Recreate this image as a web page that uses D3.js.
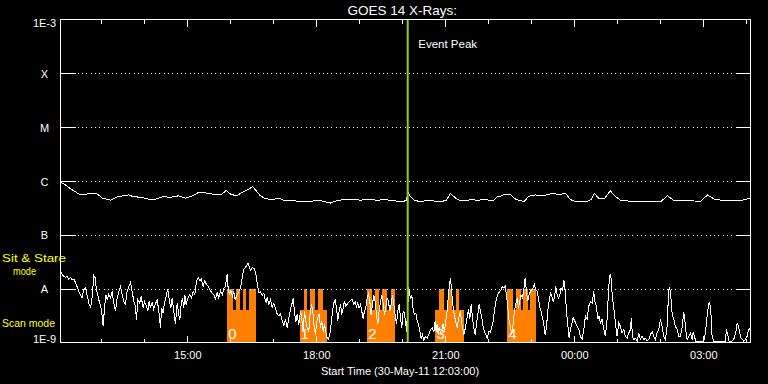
<!DOCTYPE html>
<html><head><meta charset="utf-8">
<script src="https://cdn.jsdelivr.net/npm/d3@7"></script>
<style>html,body{margin:0;padding:0;background:#000;overflow:hidden}svg{display:block}</style>
</head><body><svg id="c" width="768" height="384"></svg>
<script>
// ---- data ----
const startTime = [2011, 4, 30, 12, 3, 0];      // 30-May-11 12:03:00
const endMinutes = 962.8;                       // minutes after start at right edge
const eventPeakMinutes = 484.5;
const titleText = "GOES 14 X-Rays:";
const xTitleText = "Start Time (30-May-11 12:03:00)";

const classLabels = ["1E-9", "A", "B", "C", "M", "X", "1E-3"];
const classFlux   = [1e-9, 1e-8, 1e-7, 1e-6, 1e-5, 1e-4, 1e-3];
const tickLabels  = ["15:00", "18:00", "21:00", "00:00", "03:00"];

// long channel (upper trace)
const highMinutes = [0,7,16.7,27.9,34.9,46,51.6,58.6,69.8,79.5,86.5,94.9,101.9,111.6,122.8,132.6,142.3,153.5,164.6,174.4,184.2,191.2,202.3,212.1,223.3,231.6,237.2,245.6,254,262.3,267.9,272.1,279,286,295.8,304.2,311.2,323.7,334.9,348.8,353,362.8,376.7,387.9,397.7,407.4,418.6,429.8,441,453.5,464.7,477.2,482.8,484.9,488.4,494,502.3,509.3,519,530.2,538.6,544.2,551.2,558.1,566.5,573.5,581.9,590.2,597.2,604.2,609.8,613.2,620.9,627.9,634.9,641.9,647.4,653,662.8,671.2,678.1,686.5,694.9,704.7,711.6,720,734,740.9,745.1,750.7,759,767.4,773,781.4,795.3,816.3,837.2,847,855.3,876.3,893,902.8,912.6,927.9,948.8,962.8];
const highFlux = [9.5e-7,8.4e-7,6.8e-7,5.5e-7,5.7e-7,5.9e-7,5.7e-7,4.8e-7,4.4e-7,5.1e-7,5.3e-7,5.5e-7,5.1e-7,5.0e-7,4.6e-7,4.6e-7,5.1e-7,5.0e-7,5.3e-7,4.8e-7,5.3e-7,6.0e-7,6.0e-7,5.7e-7,5.5e-7,6.7e-7,5.7e-7,5.3e-7,6.2e-7,7.0e-7,7.9e-7,6.8e-7,5.3e-7,4.7e-7,4.5e-7,4.8e-7,4.4e-7,4.4e-7,4.1e-7,4.1e-7,4.3e-7,4.3e-7,3.9e-7,4.4e-7,4.5e-7,4.6e-7,4.4e-7,4.6e-7,4.4e-7,4.5e-7,4.3e-7,4.1e-7,4.4e-7,6.2e-7,5.1e-7,4.4e-7,4.1e-7,4.3e-7,4.3e-7,4.1e-7,4.4e-7,5.9e-7,4.8e-7,4.3e-7,4.3e-7,4.6e-7,4.3e-7,4.6e-7,4.4e-7,4.3e-7,5.1e-7,5.2e-7,5.7e-7,5.6e-7,4.6e-7,4.3e-7,4.2e-7,5.2e-7,5.5e-7,5.3e-7,5.5e-7,5.9e-7,5.6e-7,5.9e-7,4.5e-7,4.1e-7,4.1e-7,4.6e-7,5.9e-7,4.8e-7,4.7e-7,6.6e-7,5.3e-7,4.4e-7,4.2e-7,4.1e-7,4.1e-7,5.3e-7,4.4e-7,4.3e-7,4.2e-7,5.5e-7,4.6e-7,4.3e-7,4.3e-7,4.8e-7];

// short channel (lower trace)
const lowMinutes = [0,3.7,7,9.3,11.6,14,16.3,18.6,21,23,25.6,28,30,32.5,35,37,39.5,42,44,46.5,48.4,50,52,54,56,57.7,59.5,61.4,63.2,65,67.4,69.8,72,74.4,76.7,79,81.8,83.7,86,88.4,90.7,93,95.3,97.7,100,102.3,104.6,106,108,110.7,112.5,115.3,117.2,120,121.8,123.7,125.6,127.9,130,132.5,134.9,137.2,139.5,141,143.2,145,147.9,149.7,152,154,155.8,158,160.4,162.8,165,166.5,168.3,170.2,172,173.4,175.3,177.6,180.4,182.7,185,187.4,189.7,192,194.4,196.7,199,201.3,203.7,206,208.3,211.6,214,216.2,218.6,220.9,223.2,226,227.9,230.2,232.5,233.9,235.8,237.6,240,241.8,243.7,
246.5,248.8,251.2,253.5,255.8,258.1,260.5,261.8,263.7,265.6,267.4,269.8,271.6,273,274.4,275.8,277.2,279,281.4,283.7,285.1,287,288.4,290.7,293,295.3,297.7,300,302.3,304.6,307,309.3,311.6,313.9,316.3,318.6,320.9,323.2,324.6,326.5,328.3,330.2,332.5,334.9,336.2,338.6,340.4,342.3,344.2,346.5,347.9,350.2,352,353.5,355.8,357.2,359,360.9,362.8,364.6,366.5,368.3,370.2,372.1,373.9,375.8,377.6,379.5,381.4,383.2,385.1,386.9,388.8,390.7,392.5,394.4,396.2,398.1,400,402.3,404.6,406.9,409.2,411.1,413,414.8,416.7,418.6,420.4,422.3,424.1,426,427.9,429.7,431.6,433.4,435.3,437.2,439,440.9,442.7,444.6,446.5,448.3,450.2,452,453.9,455.8,457.6,459.5,461.3,463.2,465.1,466.9,468.8,470.6,472.5,474.4,476.2,478.1,
479.1,481.4,482.8,484.2,486,487.4,488.8,490.2,492.1,493.9,495.8,497.7,499.5,501.4,503.2,505.1,507,509.3,511.6,513.9,516.3,518.6,520.9,522.8,524.2,525.6,527,528.3,530.2,532.1,533.9,535.8,537.6,539.5,540.9,542.3,544.2,545.5,546.9,548.8,551.1,553.5,555.8,558.1,559.5,560.9,562.8,565.1,567.4,569.3,571.1,573,574.8,576.7,578.6,580.4,582.3,584.1,586,587.9,589.7,591.6,593.4,595.3,597.6,600,601.8,603.7,605.5,607.4,609.3,611.1,613,614.8,616.7,618.6,620.4,622.3,624.1,626,627.9,629.7,631.6,633.4,635.3,637.2,639,640.9,642.7,644.6,646.5,648.3,650.2,652,653.9,655.8,657.6,659.5,661.3,663.2,665.1,666.9,668.8,670.6,672.5,674.4,676.2,678.1,679.9,681.8,683.7,685.5,687.4,689.2,691.1,693,694.8,696.7,698.5,700.4,702.3,704.1,706,707.8,709.7,711.6,713.4,715.3,
723.2,725.5,727.8,730.2,732.5,734.8,737.1,739.5,741.8,744.1,746,747.8,749.7,751.5,753.4,755.7,758.1,760.4,762.7,765,766.4,767.8,769.2,771.1,772.9,774.8,776.7,779,781.3,783.6,786,788.3,790.6,792.9,795.3,796.6,798,799.9,802.2,804.6,806.9,809.2,811.5,813.9,816.2,818.5,820.8,823.2,825.5,827.8,830.1,832.5,834.8,837.1,839.4,841.8,844.1,846.4,848.7,850.1,852,853.4,855.7,858,860.4,862.7,865,867.3,869.7,871,872.9,874.3,876.6,879,881.3,882.7,884.5,886.4,892.9,897.6,899.9,902.2,904.5,905.9,907.8,909.2,911.5,927.8,929.2,931,932.9,937.1,939.4,942.2,944.1,946,947.8,949.6,951.5,953.4,955.7,958,960.3,961.7];
const lowFlux = [2.1e-8,1.75e-8,1.6e-8,1.7e-8,1.5e-8,1.6e-8,1.45e-8,1.5e-8,1.3e-8,1.1e-8,8.9e-9,7.7e-9,6.7e-9,9.6e-9,1.03e-8,7.7e-9,5.4e-9,4.4e-9,6.7e-9,1.75e-8,1.6e-8,9.6e-9,7.7e-9,5.8e-9,4.7e-9,3.5e-9,2.0e-9,4.4e-9,7.7e-9,6.3e-9,7.9e-9,6.7e-9,8.9e-9,5.4e-9,3.8e-9,6.7e-9,9.2e-9,1.1e-8,7.7e-9,5.8e-9,5.1e-9,8.9e-9,1.1e-8,1.3e-8,8.9e-9,5.8e-9,4.7e-9,2.6e-9,6.3e-9,5.4e-9,7.2e-9,4.4e-9,5.8e-9,4.7e-9,3.8e-9,5.8e-9,4.4e-9,5.6e-9,4.1e-9,5.2e-9,6.3e-9,3.8e-9,1.9e-9,4.4e-9,3.5e-9,5.4e-9,7.7e-9,9.9e-9,5.8e-9,4.4e-9,6.7e-9,3.8e-9,2.2e-9,5.4e-9,3.3e-9,2.6e-9,5.1e-9,6.7e-9,4.4e-9,7.7e-9,5.1e-9,6.7e-9,7.7e-9,6.7e-9,8.9e-9,7.7e-9,1.35e-8,1.6e-8,1.4e-8,1.5e-8,1.1e-8,1.4e-8,1.2e-8,1.1e-8,9.6e-9,8.3e-9,7.7e-9,6.5e-9,8.3e-9,6.7e-9,8.9e-9,7.7e-9,1.03e-8,1.1e-8,1.85e-8,1.03e-8,7.7e-9,9.2e-9,7.2e-9,8.9e-9,6.3e-9,
7.7e-9,8.9e-9,1.05e-8,1.6e-8,2.3e-8,2.5e-8,2.8e-8,3.0e-8,2.45e-8,2.2e-8,2.45e-8,2.4e-8,2.1e-8,1.75e-8,1.3e-8,1.0e-8,8.3e-9,8.9e-9,7.5e-9,8.3e-9,6.7e-9,5.6e-9,6.9e-9,5.2e-9,6.3e-9,4.5e-9,5.4e-9,4.3e-9,3.4e-9,3.1e-9,3.4e-9,2.5e-9,2.1e-9,2.7e-9,1.85e-9,2.9e-9,4.1e-9,5.4e-9,6.7e-9,3.8e-9,2.4e-9,3.3e-9,2.1e-9,3.8e-9,3.2e-9,1.6e-9,3.8e-9,2.5e-9,1.9e-9,1.6e-9,3.1e-9,5.1e-9,3.8e-9,2.2e-9,1.4e-9,2.2e-9,2.9e-9,3.4e-9,1.9e-9,2.5e-9,1.6e-9,2.2e-9,1.55e-9,1.2e-9,1.15e-9,1.4e-9,2.2e-9,3.8e-9,5.4e-9,6.3e-9,4.4e-9,2.5e-9,3.8e-9,5.1e-9,3.3e-9,4.4e-9,5.8e-9,4.7e-9,5.1e-9,5.6e-9,6.0e-9,6.3e-9,5.1e-9,5.8e-9,4.7e-9,5.4e-9,4.4e-9,5.1e-9,3.8e-9,2.8e-9,3.8e-9,4.4e-9,6.7e-9,7.9e-9,5.8e-9,3.3e-9,5.1e-9,7.7e-9,5.8e-9,3.3e-9,2.2e-9,3.8e-9,5.8e-9,7.7e-9,5.4e-9,3.3e-9,4.4e-9,6.7e-9,5.8e-9,3.8e-9,5.1e-9,7.7e-9,5.1e-9,3.3e-9,2.2e-9,3.8e-9,5.1e-9,2.9e-9,1.9e-9,3.8e-9,
3.8e-9,2.5e-9,1.6e-9,3.8e-9,1.05e-8,7.7e-9,6.5e-9,7.7e-9,4.1e-9,3.3e-9,3.5e-9,2.5e-9,2.2e-9,1.6e-9,1.2e-9,1.4e-9,1.1e-9,1.3e-9,1.2e-9,1.4e-9,1.7e-9,1.9e-9,1.55e-9,2.5e-9,1.6e-9,2.2e-9,1.4e-9,1.9e-9,1.55e-9,1.75e-9,2.2e-9,1.6e-9,2.5e-9,3.8e-9,6.7e-9,1.03e-8,1.6e-8,9.6e-9,5.8e-9,3.8e-9,2.5e-9,1.9e-9,2.9e-9,3.8e-9,2.5e-9,1.9e-9,1.4e-9,1.9e-9,2.9e-9,4.1e-9,2.7e-9,5.1e-9,2.9e-9,1.9e-9,1.4e-9,2.2e-9,3.3e-9,5.1e-9,3.8e-9,2.9e-9,2.0e-9,1.6e-9,1.4e-9,1.2e-9,1.6e-9,1.55e-9,1.9e-9,2.5e-9,3.8e-9,5.8e-9,7.2e-9,8.3e-9,8.9e-9,9.6e-9,1.1e-8,1.03e-8,1.15e-8,7.7e-9,4.4e-9,2.5e-9,1.9e-9,1.4e-9,2.2e-9,3.8e-9,5.1e-9,6.7e-9,4.4e-9,5.8e-9,7.7e-9,6.7e-9,9.6e-9,1.6e-8,8.9e-9,5.8e-9,7.7e-9,8.9e-9,9.6e-9,1.03e-8,1.2e-8,9.6e-9,8.9e-9,6.7e-9,4.4e-9,3.8e-9,2.9e-9,2.2e-9,1.4e-9,1.9e-9,3.8e-9,5.8e-9,8.3e-9,7.2e-9,5.8e-9,6.7e-9,1.1e-8,7.7e-9,6.7e-9,7.7e-9,1.03e-8,8.9e-9,1.45e-8,9.6e-9,3.8e-9,2.2e-9,1.2e-9,1.75e-9,2.2e-9,2.9e-9,
1.74e-9,1.3e-9,1.14e-9,1.74e-9,3.1e-9,2.7e-9,4.7e-9,5.8e-9,5.4e-9,8.9e-9,5.4e-9,4.7e-9,2.7e-9,3.1e-9,2.3e-9,2.7e-9,1.74e-9,1.3e-9,2.7e-9,1.1e-8,1.7e-8,1.9e-8,9.6e-9,5.4e-9,3.5e-9,2.0e-9,1.3e-9,2.3e-9,2.0e-9,1.5e-9,1.74e-9,1.3e-9,1.2e-9,1.5e-9,1.74e-9,2.9e-9,1.3e-9,1.14e-9,1.2e-9,1.06e-9,1.5e-9,1.14e-9,1.3e-9,1.14e-9,1.2e-9,1.06e-9,1.14e-9,1.4e-9,1.6e-9,1.3e-9,1.14e-9,1.5e-9,1.74e-9,2.7e-9,2.0e-9,1.3e-9,1.14e-9,2.0e-9,9.6e-9,1.05e-8,6.3e-9,3.5e-9,2.7e-9,2.0e-9,1.74e-9,1.3e-9,1.3e-9,1.9e-9,3.6e-9,2.7e-9,1.5e-9,1.14e-9,1.3e-9,1.5e-9,1.14e-9,1.55e-9,1.3e-9,1.06e-9,1.06e-9,1.06e-9,1.5e-9,3.1e-9,5.4e-9,5.6e-9,3.1e-9,1.3e-9,1.06e-9,1.06e-9,1.74e-9,1.4e-9,1.06e-9,1.06e-9,1.14e-9,1.5e-9,2.3e-9,2.0e-9,1.5e-9,1.2e-9,1.14e-9,1.06e-9,1.14e-9,1.3e-9,1.74e-9,1.8e-9];

// Sit & Stare / Scan mode segments (minutes after start, level)
const modeStart = [232.6,232.6,245.2,254.4,263.7, 333.5,339.1,348.8,359.6, 427.9,427.9,438.5,448.9,460.5, 523.2,528.8,540.4,551.2, 623.3,623.3,634.9,645.1,655.8];
const modeEnd   = [272.1,241.0,250.2,259.5,272.1, 372.1,344.6,354.8,366.5, 467.4,434.9,444.1,455.8,467.4, 562.7,535.8,546.5,556.7, 662.8,631.1,641.9,652.0,662.8];
const modeFlux  = [4e-9,1e-8,1e-8,1e-8,1e-8, 4e-9,1e-8,1e-8,1e-8, 4e-9,1e-8,1e-8,1e-8,1e-8, 4e-9,1e-8,1e-8,1e-8, 4e-9,1e-8,1e-8,1e-8,1e-8];
const blockLabels = ["0","1","2","3","4"];
const blockLabelMinutes = [232.6,333.5,427.9,523.2,623.3];

// ---- drawing ----
const start = new Date(startTime[0], startTime[1], startTime[2], startTime[3], startTime[4], startTime[5]);
const t = m => new Date(start.getTime() + m * 60000);
const L = 60.5, R = 750.5, T = 19.5, B = 342.5;
const x = d3.scaleTime().domain([start, t(endMinutes)]).range([L, R]);
const y = d3.scaleLog().domain([1e-9, 1e-3]).range([B, T]);
const svg = d3.select("#c");
svg.append("rect").attr("width", 768).attr("height", 384).attr("fill", "#000");
const FONT = "'Liberation Sans', Arial, sans-serif";
const white = "#ffffff";

// mode blocks
svg.append("g").selectAll("rect").data(modeStart).join("rect")
  .attr("x", (d, i) => x(t(d)))
  .attr("width", (d, i) => x(t(modeEnd[i])) - x(t(d)))
  .attr("y", (d, i) => y(modeFlux[i]))
  .attr("height", (d, i) => y(1e-9) - y(modeFlux[i]))
  .attr("fill", "#ff8000").attr("shape-rendering", "crispEdges");

svg.append("g").selectAll("text").data(blockLabels).join("text")
  .attr("x", (d, i) => x(t(blockLabelMinutes[i])) + 1)
  .attr("y", 338.5)
  .attr("fill", white).attr("font-family", FONT).attr("font-size", 15).text(d => d);

// gridlines
const grid = classFlux.slice(1, -1);
svg.append("g").selectAll("line").data(grid).join("line")
  .attr("x1", L).attr("x2", R).attr("y1", d => Math.round(y(d)) + 0.5).attr("y2", d => Math.round(y(d)) + 0.5)
  .attr("stroke", white).attr("stroke-dasharray", "1,3.3").attr("shape-rendering", "crispEdges");
svg.append("g").selectAll("line").data(grid).join("line")
  .attr("x1", L).attr("x2", L + 15).attr("y1", d => Math.round(y(d)) + 0.5).attr("y2", d => Math.round(y(d)) + 0.5)
  .attr("stroke", white).attr("shape-rendering", "crispEdges");
svg.append("g").selectAll("line").data(grid).join("line")
  .attr("x1", R - 14).attr("x2", R).attr("y1", d => Math.round(y(d)) + 0.5).attr("y2", d => Math.round(y(d)) + 0.5)
  .attr("stroke", white).attr("shape-rendering", "crispEdges");

// traces
const line = d3.line().x(d => x(t(d[0]))).y(d => y(d[1]));
svg.append("path").datum(lowMinutes.map((m, i) => [m, lowFlux[i]]))
  .attr("d", line).attr("fill", "none").attr("stroke", white).attr("stroke-width", 1)
  .attr("shape-rendering", "crispEdges");
svg.append("path").datum(highMinutes.map((m, i) => [m, highFlux[i]]))
  .attr("d", line).attr("fill", "none").attr("stroke", white).attr("stroke-width", 1)
  .attr("shape-rendering", "crispEdges");

// event peak
svg.append("line").attr("x1", x(t(eventPeakMinutes))).attr("x2", x(t(eventPeakMinutes)))
  .attr("y1", T).attr("y2", B).attr("stroke", "#9acd00").attr("stroke-width", 2);
svg.append("text").attr("x", x(t(eventPeakMinutes)) + 10.5).attr("y", 47.5)
  .attr("fill", white).attr("font-family", FONT).attr("font-size", 11.5).text("Event Peak");

// frame
svg.append("rect").attr("x", L).attr("y", T).attr("width", R - L).attr("height", B - T)
  .attr("fill", "none").attr("stroke", white).attr("shape-rendering", "crispEdges");

// time axes
const hourTicks = d3.timeHour.range(d3.timeHour.ceil(start), t(endMinutes));
const majorTicks = tickLabels.map(s => {
  const [hh, mm] = s.split(":").map(Number);
  let d = new Date(start); d.setHours(hh, mm, 0, 0);
  if (d < start) d.setDate(d.getDate() + 1);
  return d;
});
function styleAxis(g) {
  g.select(".domain").remove();
  g.selectAll("line").attr("stroke", white).attr("shape-rendering", "crispEdges");
  g.selectAll("text").attr("fill", white).attr("font-family", FONT).attr("font-size", 11);
}
svg.append("g").attr("transform", `translate(0,${B})`)
  .call(d3.axisBottom(x).tickValues(hourTicks).tickSize(-4).tickFormat(""))
  .call(styleAxis);
svg.append("g").attr("transform", `translate(0,${B})`)
  .call(d3.axisBottom(x).tickValues(majorTicks).tickSize(-7).tickPadding(9).tickFormat((d, i) => tickLabels[i]))
  .call(styleAxis);
svg.append("g").attr("transform", `translate(0,${T})`)
  .call(d3.axisTop(x).tickValues(hourTicks).tickSize(-4).tickFormat(""))
  .call(styleAxis);
svg.append("g").attr("transform", `translate(0,${T})`)
  .call(d3.axisTop(x).tickValues(majorTicks).tickSize(-7).tickFormat(""))
  .call(styleAxis);

// y labels
svg.append("g").selectAll("text").data(classLabels).join("text")
  .attr("x", 44.5)
  .attr("y", (d, i) => i === 0 ? 343 : (i === classLabels.length - 1 ? 27 : y(classFlux[i]) + 4.5))
  .attr("text-anchor", "middle").attr("fill", white).attr("font-family", FONT).attr("font-size", 11)
  .text(d => d);

// mode labels
const yellow = "#ffff00";
svg.append("text").attr("x", 2).attr("y", 261.5).attr("fill", yellow).attr("font-family", FONT)
  .attr("font-size", 11).attr("textLength", 64).attr("lengthAdjust", "spacingAndGlyphs").text("Sit & Stare");
svg.append("text").attr("x", 13).attr("y", 275).attr("fill", yellow).attr("font-family", FONT)
  .attr("font-size", 11).attr("textLength", 23).attr("lengthAdjust", "spacingAndGlyphs").text("mode");
svg.append("text").attr("x", 2).attr("y", 327).attr("fill", yellow).attr("font-family", FONT)
  .attr("font-size", 11.5).attr("textLength", 53).attr("lengthAdjust", "spacingAndGlyphs").text("Scan mode");

// titles
svg.append("text").attr("x", 457).attr("y", 14.5).attr("text-anchor", "end")
  .attr("fill", white).attr("font-family", FONT).attr("font-size", 13.5).text(titleText);
svg.append("text").attr("x", 400).attr("y", 375).attr("text-anchor", "middle")
  .attr("fill", white).attr("font-family", FONT).attr("font-size", 11).text(xTitleText);
</script></body></html>
